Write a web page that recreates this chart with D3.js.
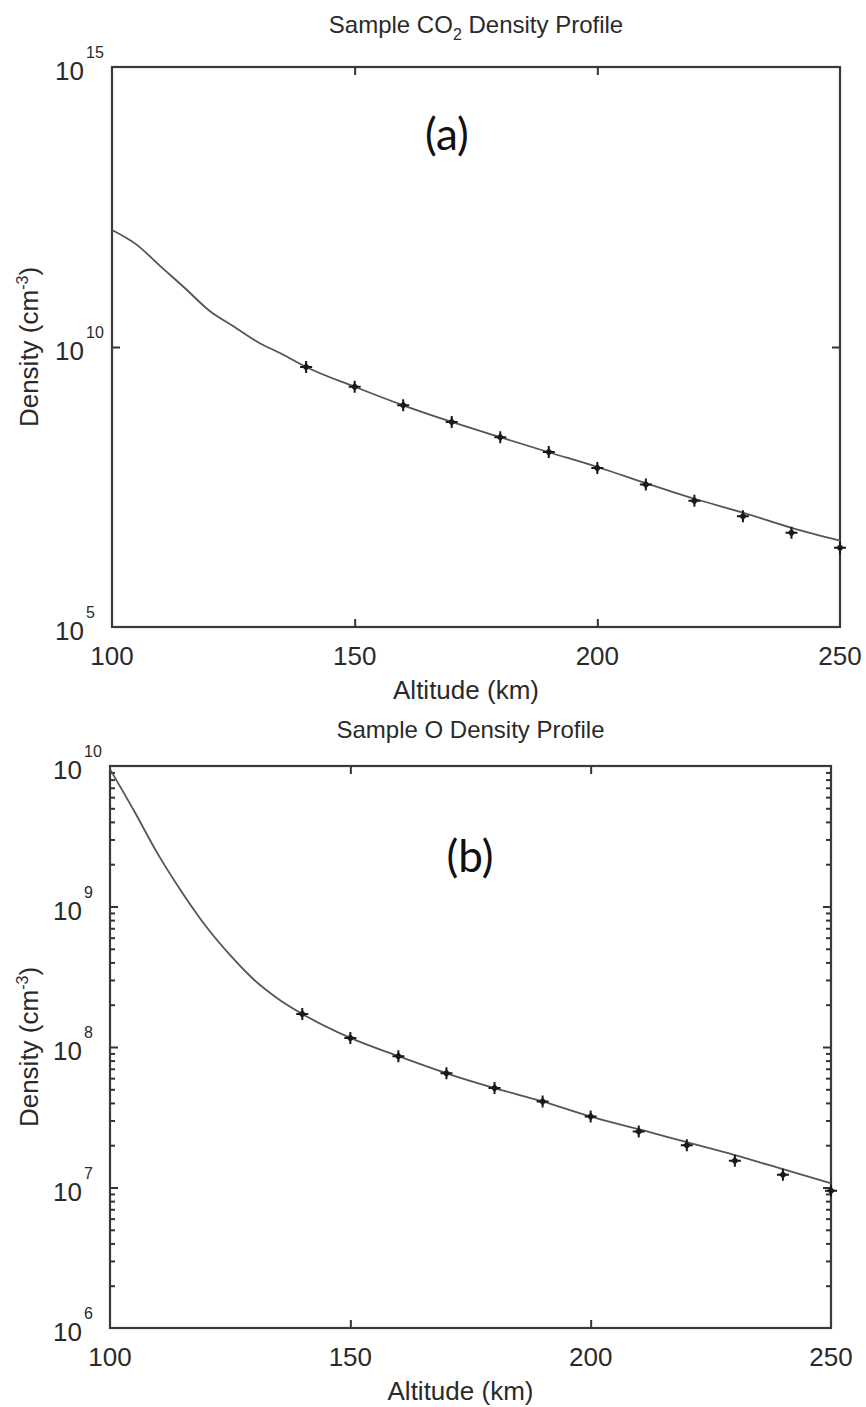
<!DOCTYPE html>
<html>
<head>
<meta charset="utf-8">
<script src="https://cdn.jsdelivr.net/npm/d3@7"></script>
<style>
  body { margin: 0; background: #fff; }
  text { font-family: "Liberation Sans", Arial, sans-serif; fill: #2a2a2a; }
</style>
</head>
<body>
<div id="chart"></div>
<script>
// altitude grid (km)
const altLine = [100, 105, 110, 115, 120, 125, 130, 135, 140, 150, 160, 170, 180, 190, 200, 210, 220, 230, 240, 250];
const altPts = [140, 150, 160, 170, 180, 190, 200, 210, 220, 230, 240, 250];

// CO2 density (cm^-3)
const co2Line = [1.23e12, 6.8e11, 2.75e11, 1.13e11, 4.5e10, 2.35e10, 1.23e10, 7.5e9, 4.4e9, 1.95e9, 9.1e8, 4.6e8,
                 2.45e8, 1.32e8, 7.2e7, 3.7e7, 1.95e7, 1.1e7, 5.9e6, 3.5e6];
const co2Pts = [4.4e9, 1.95e9, 9.1e8, 4.6e8, 2.45e8, 1.33e8, 6.9e7, 3.5e7, 1.8e7, 9.5e6, 4.8e6, 2.6e6];

// O density (cm^-3)
const oLine = [9.5e9, 4.8e9, 2.35e9, 1.26e9, 7.2e8, 4.5e8, 3.0e8, 2.2e8, 1.72e8, 1.16e8, 8.6e7, 6.5e7,
               5.1e7, 4.1e7, 3.2e7, 2.6e7, 2.1e7, 1.7e7, 1.35e7, 1.07e7];
const oPts = [1.72e8, 1.16e8, 8.6e7, 6.5e7, 5.1e7, 4.1e7, 3.2e7, 2.5e7, 2.0e7, 1.55e7, 1.23e7, 9.5e6];

const xTicks = [100, 150, 200, 250];
const yTicksA = [1e5, 1e10, 1e15];
const yTicksB = [1e6, 1e7, 1e8, 1e9, 1e10];

let svg = d3.select("#chart").append("svg")
    .attr("width", 866)
    .attr("height", 1407);

svg.append("rect").attr("width", 866).attr("height", 1407).attr("fill", "#fff");

function drawPanel(opt) {
    let x = d3.scaleLinear().domain([100, 250]).range([opt.left, opt.right]);
    let y = d3.scaleLog().domain(opt.yDomain).range([opt.bottom, opt.top]);
    let g = svg.append("g");

    // ticks (inward, on all four sides)
    let xt = [150, 200];
    g.append("g").attr("transform", "translate(0," + opt.bottom + ")")
      .call(d3.axisBottom(x).tickValues(xt).tickSize(-8).tickFormat(""));
    g.append("g").attr("transform", "translate(0," + opt.top + ")")
      .call(d3.axisTop(x).tickValues(xt).tickSize(-8).tickFormat(""));

    let inner = opt.yTicks.filter(function(d) { return d > opt.yDomain[0] && d < opt.yDomain[1]; });
    g.append("g").attr("transform", "translate(" + opt.left + ",0)")
      .call(d3.axisLeft(y).tickValues(inner).tickSize(-8).tickFormat(""));
    g.append("g").attr("transform", "translate(" + opt.right + ",0)")
      .call(d3.axisRight(y).tickValues(inner).tickSize(-8).tickFormat(""));

    if (opt.minor) {
        let minor = [];
        for (let e = Math.log10(opt.yDomain[0]); e < Math.log10(opt.yDomain[1]); e++) {
            for (let m = 2; m <= 9; m++) minor.push(m * Math.pow(10, e));
        }
        g.append("g").attr("transform", "translate(" + opt.left + ",0)")
          .call(d3.axisLeft(y).tickValues(minor).tickSize(-5).tickFormat(""));
        g.append("g").attr("transform", "translate(" + opt.right + ",0)")
          .call(d3.axisRight(y).tickValues(minor).tickSize(-5).tickFormat(""));
    }
    g.selectAll(".domain").remove();
    g.selectAll(".tick line").attr("stroke", "#333").attr("stroke-width", 2);

    // box
    g.append("rect")
      .attr("x", opt.left).attr("y", opt.top)
      .attr("width", opt.right - opt.left).attr("height", opt.bottom - opt.top)
      .attr("fill", "none").attr("stroke", "#3a3a3a").attr("stroke-width", 2.2);

    // x tick labels
    g.selectAll(".xl").data(xTicks).enter().append("text")
      .attr("x", function(d) { return x(d); })
      .attr("y", opt.bottom + 38)
      .attr("text-anchor", "middle")
      .style("font-size", "26px")
      .text(function(d) { return d; });

    // y tick labels 10^n
    let yl = g.selectAll(".yl").data(opt.yTicks).enter().append("g");
    yl.append("text")
      .attr("x", opt.left - 28)
      .attr("y", function(d) { return y(d) + 13; })
      .attr("text-anchor", "end")
      .style("font-size", "26px")
      .text("10");
    yl.append("text")
      .attr("x", opt.left - 26)
      .attr("y", function(d) { return y(d) - 9; })
      .attr("text-anchor", "start")
      .style("font-size", "16px")
      .text(function(d) { return Math.round(Math.log10(d)); });

    // axis labels
    g.append("text")
      .attr("x", (opt.left + opt.right) / 2 - 10)
      .attr("y", opt.bottom + 72)
      .attr("text-anchor", "middle")
      .style("font-size", "26px")
      .text("Altitude (km)");

    let yt = g.append("text")
      .attr("transform", "translate(38," + ((opt.top + opt.bottom) / 2) + ") rotate(-90)")
      .attr("text-anchor", "middle")
      .style("font-size", "26px");
    yt.append("tspan").text("Density (cm");
    yt.append("tspan").attr("dy", -10).style("font-size", "16px").text("-3");
    yt.append("tspan").attr("dy", 10).text(")");

    // title
    let tt = g.append("text")
      .attr("x", (opt.left + opt.right) / 2)
      .attr("y", opt.titleY)
      .attr("text-anchor", "middle")
      .style("font-size", "24px");
    opt.title.forEach(function(p) {
        tt.append("tspan").attr("dy", p.dy || 0).style("font-size", p.sub ? "16px" : null).text(p.t);
    });

    // panel letter
    g.append("text")
      .attr("x", opt.letterX).attr("y", opt.letterY)
      .attr("text-anchor", "middle")
      .style("font-family", "Lato, 'Open Sans', sans-serif")
      .style("font-size", "44px")
      .style("fill", "#111")
      .text(opt.letter);

    // model curve
    let line = d3.line()
      .x(function(d, i) { return x(altLine[i]); })
      .y(function(d) { return y(d); })
      .curve(d3.curveMonotoneX);
    g.append("path")
      .datum(opt.line)
      .attr("d", line)
      .attr("fill", "none")
      .attr("stroke", "#555")
      .attr("stroke-width", 1.8);

    // measured points
    let pts = g.selectAll(".pt").data(opt.pts).enter().append("g")
      .attr("transform", function(d, i) { return "translate(" + x(altPts[i]) + "," + y(d) + ")"; });
    pts.append("path")
      .attr("d", "M-6,0H6M0,-6V6")
      .attr("stroke", "#1a1a1a").attr("stroke-width", 2);
    pts.append("path")
      .attr("d", "M0,-4L4,0L0,4L-4,0Z")
      .attr("fill", "#1a1a1a");
}

drawPanel({
    left: 112, right: 840, top: 67, bottom: 627,
    yDomain: [1e5, 1e15], yTicks: yTicksA, minor: false,
    line: co2Line, pts: co2Pts,
    titleY: 33,
    title: [{t: "Sample CO"}, {t: "2", sub: true, dy: 7}, {t: " Density Profile", dy: -7}],
    letter: "(a)", letterX: 447, letterY: 150
});

drawPanel({
    left: 110, right: 831, top: 766, bottom: 1328,
    yDomain: [1e6, 1e10], yTicks: yTicksB, minor: true,
    line: oLine, pts: oPts,
    titleY: 738,
    title: [{t: "Sample O Density Profile"}],
    letter: "(b)", letterX: 470, letterY: 872
});
</script>
</body>
</html>
